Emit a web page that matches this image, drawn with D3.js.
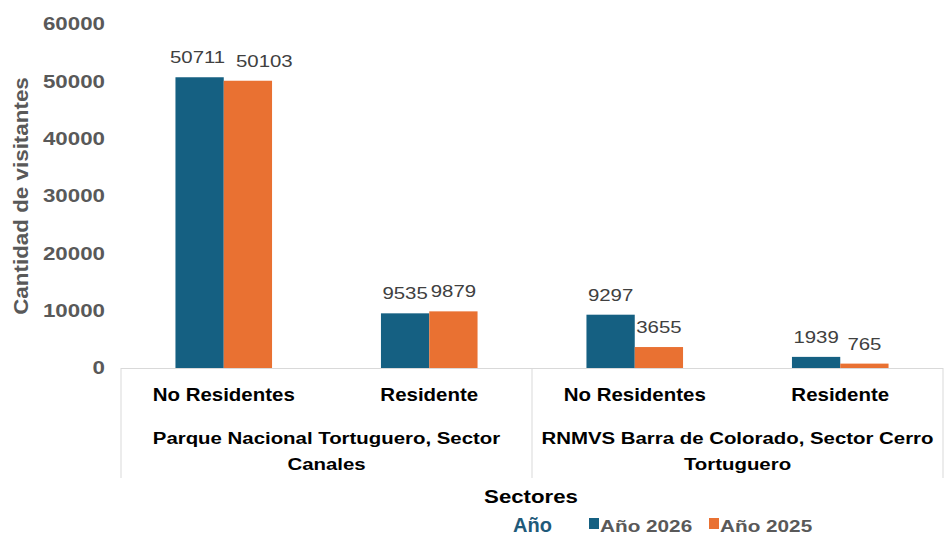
<!DOCTYPE html>
<html>
<head>
<meta charset="utf-8">
<script src="https://cdn.jsdelivr.net/npm/d3@7"></script>
<style>
  body { margin: 0; background: #fff; }
  text { font-family: "Liberation Sans", Arial, sans-serif; }
</style>
</head>
<body>
<div id="chart"></div>
<script>
// data
let sectores = ['Parque Nacional Tortuguero, Sector Canales', 'RNMVS Barra de Colorado, Sector Cerro Tortuguero'];
let sectorLines = [['Parque Nacional Tortuguero, Sector', 'Canales'], ['RNMVS Barra de Colorado, Sector Cerro', 'Tortuguero']];
let tipos = ['No Residentes', 'Residente'];
let series = ['Año 2026', 'Año 2025'];
let val2026 = [50711, 9535, 9297, 1939];
let val2025 = [50103, 9879, 3655, 765];
let yTicks = [0, 10000, 20000, 30000, 40000, 50000, 60000];

let colors = {'Año 2026': '#156082', 'Año 2025': '#E97132'};

let width = 950, height = 536;
let margin = {left: 121, right: 7, top: 24, bottom: 168};
// the reference picture is a bit wider than tall, so text gets stretched sideways
let sx = 1.2;

let svg = d3.select('#chart').append('svg')
    .attr('width', width).attr('height', height);

function stretch(sel, s){
    sel.each(function(){
        let t = d3.select(this);
        let x = +t.attr('x') || 0, yy = +t.attr('y') || 0;
        t.attr('x', 0).attr('y', 0)
         .attr('transform', 'translate(' + x + ',' + yy + ') scale(' + s + ',1)');
    });
}

// build rows
let rows = [];
sectores.forEach((s, i) => {
    tipos.forEach((t, j) => {
        let k = i * tipos.length + j;
        rows.push({key: k, sector: s, tipo: t, 'Año 2026': val2026[k], 'Año 2025': val2025[k]});
    });
});

let x0 = d3.scaleBand().domain(rows.map(d => d.key))
    .range([margin.left, width - margin.right]).paddingInner(0.53).paddingOuter(0.265);
let x1 = d3.scaleBand().domain(series).range([0, x0.bandwidth()]);
let y = d3.scaleLinear().domain([0, 60000]).range([height - margin.bottom, margin.top]);

let base = y(0);

// y axis labels (no line)
let yAxis = svg.append('g').attr('transform', 'translate(' + (margin.left - 16) + ',0)')
    .call(d3.axisLeft(y).tickValues(yTicks).tickSize(0).tickPadding(0).tickFormat(d3.format('d')));
yAxis.select('.domain').remove();
yAxis.selectAll('text')
    .attr('font-family', '"Liberation Sans", Arial, sans-serif')
    .attr('font-size', 18).attr('font-weight', 'bold').attr('fill', '#595959')
    .attr('transform', 'scale(' + 1.24 + ',1)');

svg.append('text')
    .attr('transform', 'translate(28,' + (y(30000)) + ') rotate(-90) scale(1.12,1)')
    .attr('text-anchor', 'middle')
    .attr('font-size', 20).attr('font-weight', 'bold').attr('fill', '#595959')
    .text('Cantidad de visitantes');

// bars
let grp = svg.selectAll('g.cat').data(rows).enter().append('g')
    .attr('class', 'cat')
    .attr('transform', d => 'translate(' + x0(d.key) + ',0)');

grp.selectAll('rect').data(d => series.map(s => ({s: s, v: d[s]})))
    .enter().append('rect')
    .attr('x', d => x1(d.s)).attr('width', x1.bandwidth())
    .attr('y', d => y(d.v)).attr('height', d => base - y(d.v))
    .attr('fill', d => colors[d.s]);

// value labels, pushed apart when two in a group would touch
let valSize = 17;
grp.each(function(d){
    let g = d3.select(this);
    let lab = series.map(s => {
        let w = String(d[s]).length * 0.556 * valSize * sx;
        return {s: s, v: d[s], cx: x1(s) + x1.bandwidth() / 2, w: w};
    });
    let gap = (lab[1].cx - lab[1].w / 2) - (lab[0].cx + lab[0].w / 2);
    if (gap < 2) {
        lab[0].cx -= 2;
        lab[1].cx += (10 - gap) - 2;
    }
    g.selectAll('text.val').data(lab).enter().append('text')
        .attr('class', 'val')
        .attr('x', l => l.cx)
        .attr('y', l => y(l.v) - 14)
        .attr('text-anchor', 'middle')
        .attr('font-size', valSize).attr('fill', '#404040')
        .text(l => l.v)
        .call(stretch, sx);
});

// category axis
let step = x0.step();
let axisG = svg.append('g');
axisG.append('line')
    .attr('x1', margin.left).attr('x2', width - margin.right)
    .attr('y1', base + 0.5).attr('y2', base + 0.5)
    .attr('stroke', '#d9d9d9');

let seps = [0, 2, 4];
seps.forEach(k => {
    let xx = margin.left + k * step;
    axisG.append('line')
        .attr('x1', xx).attr('x2', xx)
        .attr('y1', base).attr('y2', base + 110)
        .attr('stroke', '#d9d9d9');
});

axisG.selectAll('text.tipo').data(rows).enter().append('text')
    .attr('class', 'tipo')
    .attr('x', d => x0(d.key) + x0.bandwidth() / 2)
    .attr('y', base + 33)
    .attr('text-anchor', 'middle')
    .attr('font-size', 17.5).attr('font-weight', 'bold').attr('fill', '#000')
    .text(d => d.tipo)
    .call(stretch, 1.17);

sectores.forEach((s, i) => {
    let cx = margin.left + (i * 2 + 1) * step;
    sectorLines[i].forEach((ln, j) => {
        axisG.append('text')
            .attr('x', cx).attr('y', base + 76 + j * 26)
            .attr('text-anchor', 'middle')
            .attr('font-size', 17).attr('font-weight', 'bold').attr('fill', '#000')
            .text(ln)
            .call(stretch, sx);
    });
});

svg.append('text')
    .attr('x', 531).attr('y', 503)
    .attr('text-anchor', 'middle')
    .attr('font-size', 19).attr('font-weight', 'bold').attr('fill', '#000')
    .text('Sectores')
    .call(stretch, 1.17);

// legend
let leg = svg.append('g').attr('transform', 'translate(0,532)');
leg.append('text').attr('x', 513).attr('y', 0)
    .attr('font-size', 20).attr('font-weight', 'bold').attr('fill', '#1f5a7a')
    .text('Año')
    .call(stretch, 1.0);
let legX = [589, 709];
series.forEach((s, i) => {
    leg.append('rect').attr('x', legX[i]).attr('y', -14).attr('width', 10).attr('height', 11)
        .attr('fill', colors[s]);
    leg.append('text').attr('x', legX[i] + 11).attr('y', 0)
        .attr('font-size', 17).attr('font-weight', 'bold').attr('fill', '#595959')
        .text(s)
        .call(stretch, 1.22);
});
</script>
</body>
</html>
